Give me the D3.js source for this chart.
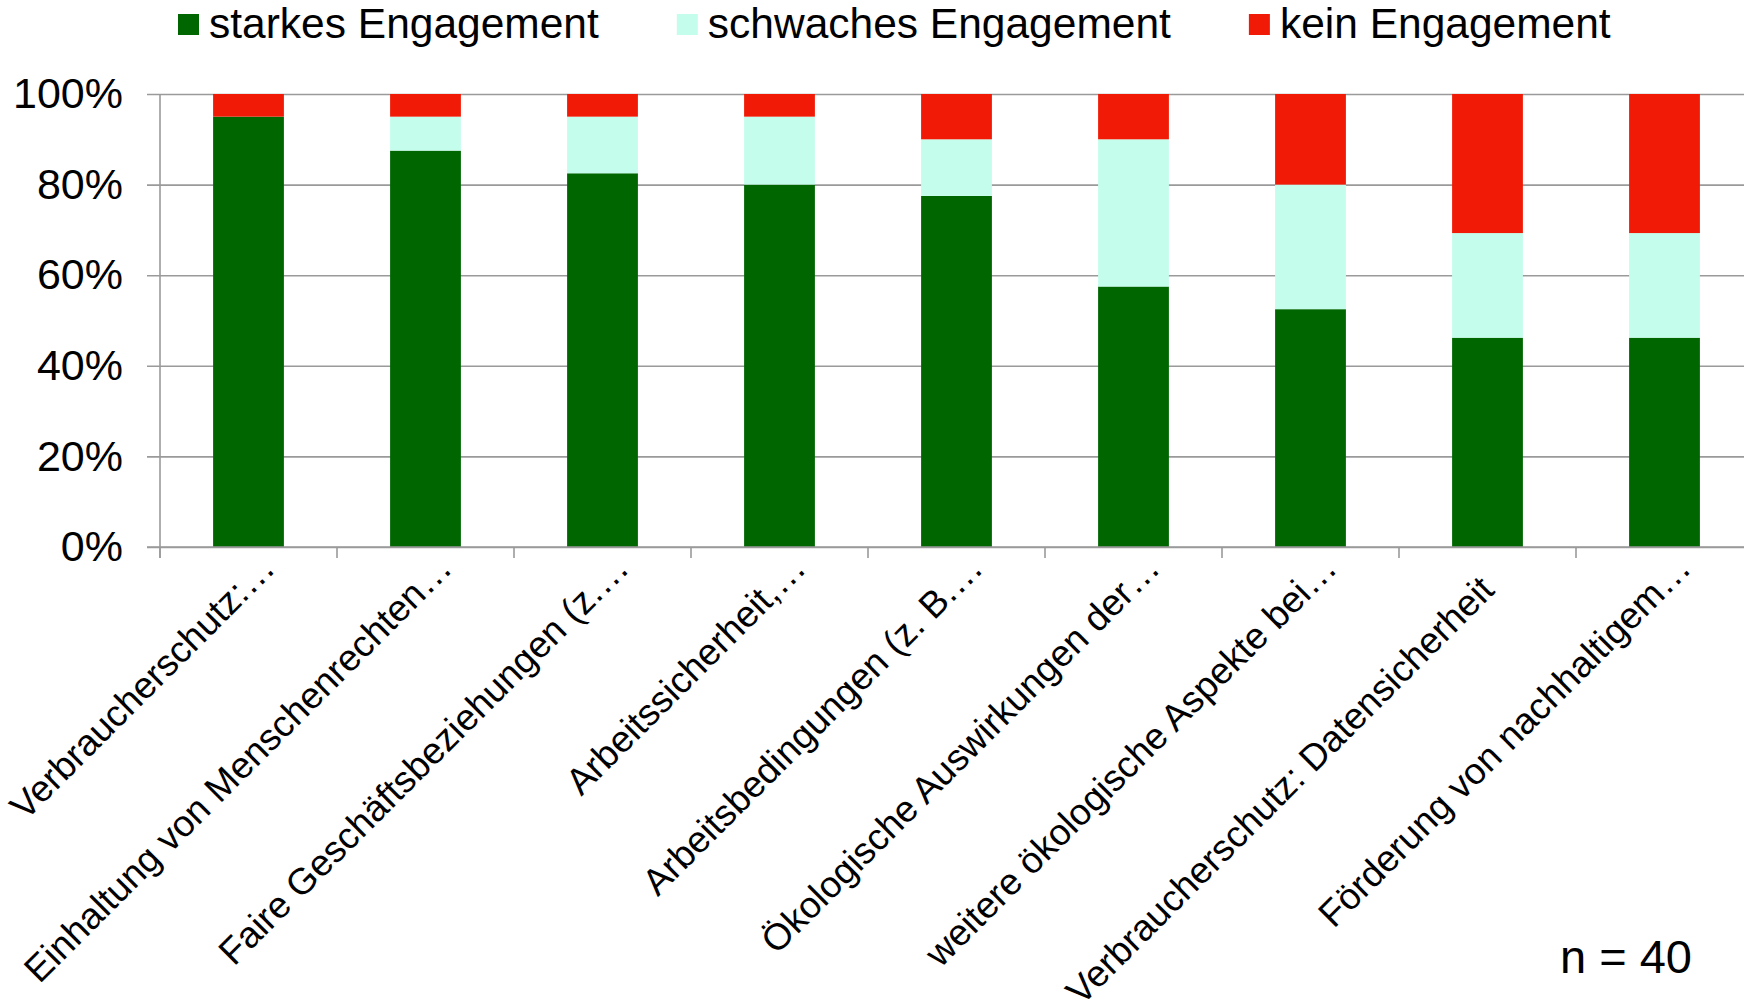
<!DOCTYPE html>
<html>
<head>
<meta charset="utf-8">
<script src="https://cdn.jsdelivr.net/npm/d3@7"></script>
<style>
  html, body { margin: 0; padding: 0; background: #fff; }
  svg { display: block; font-family: "Liberation Sans", Arial, sans-serif; }
</style>
</head>
<body>
<svg id="chart" width="1744" height="1006"></svg>
<script>
// ---- data ----
const categories = [
  "Verbraucherschutz:…",
  "Einhaltung von Menschenrechten…",
  "Faire Geschäftsbeziehungen (z.…",
  "Arbeitssicherheit,…",
  "Arbeitsbedingungen (z. B.…",
  "Ökologische Auswirkungen der…",
  "weitere ökologische Aspekte bei…",
  "Verbraucherschutz: Datensicherheit",
  "Förderung von nachhaltigem…"
];
const seriesNames = ["starkes Engagement", "schwaches Engagement", "kein Engagement"];
const starkes   = [95, 87.5, 82.5, 80, 77.5, 57.5, 52.5, 46.2, 46.2];
const schwaches = [0, 7.5, 12.5, 15, 12.5, 32.5, 27.5, 23.1, 23.1];
const kein      = [5, 5, 5, 5, 10, 10, 20, 30.7, 30.7];
const yTicks = [0, 20, 40, 60, 80, 100];
const yTickLabels = ["0%", "20%", "40%", "60%", "80%", "100%"];
const noteText = "n = 40";

const colors = ["#006600", "#c5fdec", "#f01a06"];

// ---- layout ----
const W = 1744, H = 1006;
const plot = { left: 160, right: 1753, top: 94, bottom: 547 };

const svg = d3.select("#chart");
svg.append("rect").attr("width", W).attr("height", H).attr("fill", "#fff");

const x = d3.scaleBand()
  .domain(categories)
  .range([plot.left, plot.right])
  .paddingInner(0.6)
  .paddingOuter(0.3);

const y = d3.scaleLinear().domain([0, 100]).range([plot.bottom, plot.top]);

// gridlines + y axis ticks
const yAxis = d3.axisLeft(y)
  .tickValues(yTicks)
  .tickFormat((d, i) => yTickLabels[i])
  .tickSize(-(W - plot.left))
  .tickPadding(37);

const gy = svg.append("g")
  .attr("transform", `translate(${plot.left},0)`)
  .call(yAxis);
gy.select(".domain").remove();
gy.selectAll(".tick line")
  .attr("x1", -13)
  .attr("stroke", "#9a9a9a")
  .attr("stroke-width", 1.6);
gy.selectAll(".tick text")
  .attr("fill", "#000")
  .attr("font-size", 43)
  .attr("font-family", "'Liberation Sans', Arial, sans-serif");

// stacked bars
const rows = categories.map((c, i) => ({
  cat: c,
  [seriesNames[0]]: starkes[i],
  [seriesNames[1]]: schwaches[i],
  [seriesNames[2]]: kein[i]
}));
const stack = d3.stack().keys(seriesNames)(rows);

svg.append("g").selectAll("g")
  .data(stack)
  .join("g")
  .attr("fill", (d, i) => colors[i])
  .selectAll("rect")
  .data(d => d)
  .join("rect")
  .attr("x", d => x(d.data.cat))
  .attr("width", x.bandwidth())
  .attr("y", d => y(d[1]))
  .attr("height", d => Math.max(0, y(d[0]) - y(d[1])));

// vertical axis line
svg.append("line")
  .attr("x1", plot.left).attr("x2", plot.left)
  .attr("y1", plot.top).attr("y2", plot.bottom + 11)
  .attr("stroke", "#9a9a9a").attr("stroke-width", 1.6);

// bottom axis line
svg.append("line")
  .attr("x1", plot.left - 13).attr("x2", W)
  .attr("y1", plot.bottom).attr("y2", plot.bottom)
  .attr("stroke", "#9a9a9a").attr("stroke-width", 1.6);

// category boundary ticks
const step = x.step();
const boundaries = d3.range(categories.length + 1).map(k => plot.left + k * step);
svg.append("g").selectAll("line")
  .data(boundaries)
  .join("line")
  .attr("x1", d => d).attr("x2", d => d)
  .attr("y1", plot.bottom).attr("y2", plot.bottom + 11)
  .attr("stroke", "#9a9a9a").attr("stroke-width", 1.6);

// category labels rotated -45
svg.append("g").selectAll("text")
  .data(categories)
  .join("text")
  .attr("transform", d => {
    const truncated = d.endsWith("…");
    const cx = x(d) + x.bandwidth() / 2 + (truncated ? 28.5 : 8.5);
    const cy = truncated ? 570 : 592;
    return `translate(${cx},${cy}) rotate(-45)`;
  })
  .attr("text-anchor", "end")
  .attr("font-size", 37)
  .attr("fill", "#000")
  .text(d => d);

// legend
const legend = svg.append("g");
let lx = 178;
seriesNames.forEach((name, i) => {
  legend.append("rect")
    .attr("x", lx).attr("y", 14)
    .attr("width", 21).attr("height", 21)
    .attr("fill", colors[i]);
  const t = legend.append("text")
    .attr("x", lx + 31).attr("y", 38)
    .attr("font-size", 42.5)
    .attr("fill", "#000")
    .text(name);
  lx = lx + 31 + t.node().getComputedTextLength() + 78;
});

// note
svg.append("text")
  .attr("x", 1692).attr("y", 973)
  .attr("text-anchor", "end")
  .attr("font-size", 47)
  .attr("fill", "#000")
  .text(noteText);
</script>
</body>
</html>
